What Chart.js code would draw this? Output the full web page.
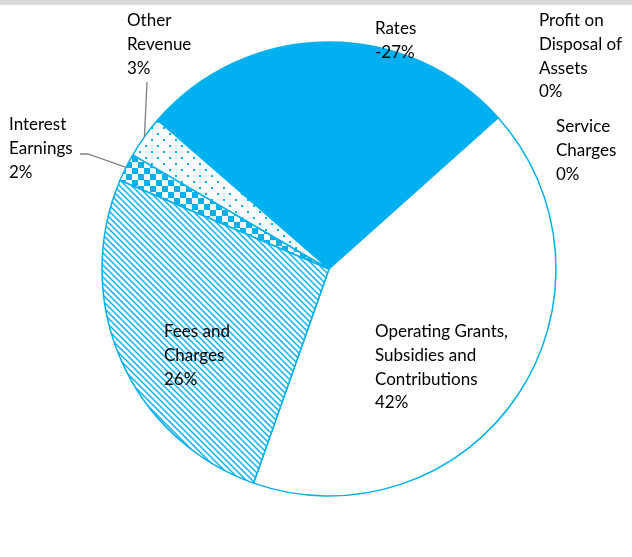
<!DOCTYPE html>
<html lang="en">
<head>
  <meta charset="UTF-8">
  <title>Revenue by Source</title>
  <script src="https://cdn.jsdelivr.net/npm/chart.js"></script>
  <style>
    body {
      margin: 0;
      background: #fff;
    }
    .topbar {
      position: absolute;
      left: 0;
      top: 0;
      width: 632px;
      height: 5px;
      background: #d9d9d9;
    }
    canvas {
      display: block;
    }
  </style>
</head>
<body>
  <div class="topbar"></div>
  <canvas id="revenueChart" width="632" height="557"></canvas>

  <script>
    // revenue sources, in drawing order (clockwise from the Rates slice)
    const categories = [
      ['Rates'],
      ['Profit on', 'Disposal of', 'Assets'],
      ['Service', 'Charges'],
      ['Operating Grants,', 'Subsidies and', 'Contributions'],
      ['Fees and', 'Charges'],
      ['Interest', 'Earnings'],
      ['Other', 'Revenue']
    ];
    const shares = [-27, 0, 0, 42, 26, 2, 3];

    const BLUE = '#00B0F0';

    function makeTile(w, h, draw) {
      const c = document.createElement('canvas');
      c.width = w;
      c.height = h;
      const g = c.getContext('2d');
      g.fillStyle = '#fff';
      g.fillRect(0, 0, w, h);
      draw(g);
      return document.createElement('canvas').getContext('2d').createPattern(c, 'repeat');
    }

    // diagonal hatching
    const hatch = makeTile(6, 6, g => {
      g.strokeStyle = BLUE;
      g.lineWidth = 1.4;
      g.beginPath();
      g.moveTo(-1, -1); g.lineTo(7, 7);
      g.moveTo(-1, 5); g.lineTo(1, 7);
      g.moveTo(5, -1); g.lineTo(7, 1);
      g.stroke();
    });
    // checkerboard
    const checker = makeTile(12, 12, g => {
      g.fillStyle = BLUE;
      g.fillRect(0, 0, 6, 6);
      g.fillRect(6, 6, 6, 6);
    });
    // sparse staggered dots
    const dots = makeTile(12, 12, g => {
      g.fillStyle = BLUE;
      g.fillRect(1, 1, 2, 2);
      g.fillRect(7, 7, 2, 2);
    });

    const fills = [BLUE, '#fff', '#fff', '#fff', hatch, checker, dots];

    // label blocks: offset of the text's top-left from the pie centre, in px
    const labelOffsets = [
      [46, -240],
      [210, -248],
      [227, -142],
      [46, 63],
      [-165, 63],
      [-320, -144],
      [-202, -248]
    ];
    // leader lines: label-side start point, offset from the pie centre
    const leaders = {
      5: [[-249, -115], [-241, -115]],
      6: [[-182, -187]]
    };

    const labelPlugin = {
      id: 'sliceLabels',
      afterDatasetsDraw(chart) {
        const ctx = chart.ctx;
        const meta = chart.getDatasetMeta(0);
        const first = meta.data[0];
        const cx = first.x, cy = first.y, r = first.outerRadius;

        ctx.save();
        // leader lines to the small slices
        ctx.strokeStyle = '#808080';
        ctx.lineWidth = 1.3;
        Object.keys(leaders).forEach(k => {
          const arc = meta.data[k];
          const mid = (arc.startAngle + arc.endAngle) / 2;
          const pts = leaders[k];
          ctx.beginPath();
          ctx.moveTo(cx + pts[0][0], cy + pts[0][1]);
          for (let i = 1; i < pts.length; i++) ctx.lineTo(cx + pts[i][0], cy + pts[i][1]);
          ctx.lineTo(cx + Math.cos(mid) * r, cy + Math.sin(mid) * r);
          ctx.stroke();
        });

        ctx.fillStyle = '#000';
        ctx.font = '17px Lato, "Liberation Sans", sans-serif';
        ctx.textAlign = 'left';
        ctx.textBaseline = 'middle';
        const lineH = 23.6;
        categories.forEach((lines, i) => {
          const rows = lines.concat([shares[i] + '%']);
          const x = cx + labelOffsets[i][0];
          const y = cy + labelOffsets[i][1];
          rows.forEach((t, j) => ctx.fillText(t, x, y + j * lineH));
        });
        ctx.restore();
      }
    };

    new Chart(document.getElementById('revenueChart'), {
      type: 'pie',
      data: {
        labels: categories.map(l => l.join(' ')),
        datasets: [{
          data: shares,
          backgroundColor: fills,
          borderColor: BLUE,
          borderWidth: 1.5,
          hoverOffset: 0
        }]
      },
      options: {
        responsive: false,
        animation: false,
        rotation: 311,
        radius: 227,
        layout: {
          padding: { left: 102, right: 76, top: 42, bottom: 61 }
        },
        plugins: {
          legend: { display: false },
          tooltip: { enabled: false }
        }
      },
      plugins: [labelPlugin]
    });
  </script>
</body>
</html>
